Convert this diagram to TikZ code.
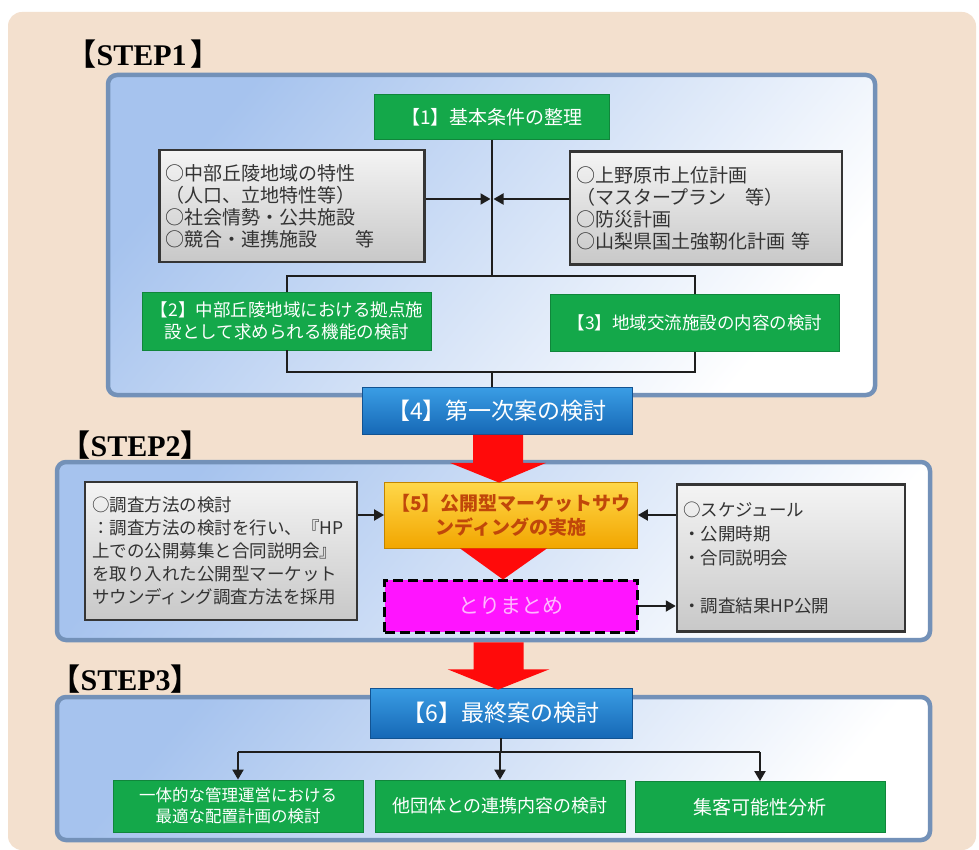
\documentclass[tikz,border=0pt]{standalone}
\usepackage{fontspec}
\setmainfont{Liberation Serif}
\newfontfamily\jp{Noto Sans CJK JP}
\usetikzlibrary{arrows.meta,calc}
\definecolor{beige}{HTML}{F3E0CE}
\definecolor{panelline}{HTML}{7391B8}
\definecolor{panelA}{HTML}{A6C3EE}
\definecolor{grn}{HTML}{14A84A}
\definecolor{blu1}{HTML}{3A9DE4}
\definecolor{blu2}{HTML}{1668B6}
\definecolor{gold1}{HTML}{FFD84A}
\definecolor{gold2}{HTML}{F2A600}
\definecolor{txtor}{HTML}{C0470A}
\definecolor{mag}{HTML}{FF14FF}
\definecolor{magtxt}{HTML}{FFB8FF}
\definecolor{grayA}{HTML}{F4F4F4}
\definecolor{grayB}{HTML}{C8C8C8}
\definecolor{bordr}{HTML}{353535}
\definecolor{redar}{HTML}{FF0A0A}
\definecolor{lin}{HTML}{1E1E1E}
\tikzset{
  panel/.style={rounded corners=9pt, draw=panelline, line width=4.5pt, top color=panelA, bottom color=white, shading angle=50, inner sep=0pt},
  steplabel/.style={anchor=west, inner sep=0pt, font=\fontsize{30}{32}\selectfont\bfseries},
  greenbox/.style={draw=grn!80!black, line width=0.8pt, fill=grn, text=white, inner sep=2pt, align=center},
  bluebox/.style={draw=blu2!80!black, line width=0.8pt, top color=blu1, bottom color=blu2, text=white, align=center, font=\jp\fontsize{23}{26}\selectfont},
  graybox/.style={draw=bordr, line width=2.5pt, top color=grayA, bottom color=grayB, align=left, inner sep=6pt, text=black!80},
  conn/.style={line width=2pt, draw=lin},
  arr/.style={conn, -{Triangle[length=10pt,width=11pt]}},
}
\newcommand{\lbr}{{\jp\bfseries\hspace{-0.45em}【}}
\newcommand{\rbr}{{\jp\bfseries 】\hspace{-0.45em}}}
\begin{document}
\begin{tikzpicture}[x=1pt,y=-1pt]
\useasboundingbox (0,0) rectangle (979,850);
\fill[white] (0,0) rectangle (979,850);
\fill[beige, rounded corners=14pt] (8,12) rectangle (976,850);

% panels
\node[panel, minimum width=767, minimum height=320] (P1) at (491.5,235) {};
\node[panel, minimum width=873, minimum height=178] (P2) at (493.5,551) {};
\node[panel, minimum width=873, minimum height=143] (P3) at (493.5,768.5) {};

% step labels
\node[steplabel] (S1) at (80,54) {\lbr STEP1\hspace{4pt}\rbr};
\node[steplabel] (S2) at (74,445) {\lbr STEP2\rbr};
\node[steplabel] (S3) at (64,679) {\lbr STEP3\rbr};

% STEP 1 nodes
\node[greenbox, minimum width=235, minimum height=45, font=\jp\fontsize{19}{22}\selectfont] (n1) at (492,117) {【1】基本条件の整理};
\node[graybox, text width=253, minimum height=112, font=\jp\fontsize{19}{22}\selectfont] (L1) at (292,206)
  {○中部丘陵地域の特性\\（人口、立地特性等）\\○社会情勢・公共施設\\○競合・連携施設　　等};
\node[graybox, text width=260, minimum height=113, font=\jp\fontsize{19}{22}\selectfont] (R1) at (706,208)
  {○上野原市上位計画\\（マスタープラン　等）\\○防災計画\\○山梨県国土強靭化計画 等};
\node[greenbox, minimum width=289, minimum height=58, font=\jp\fontsize{17.5}{22}\selectfont] (n2) at (287,321)
  {【2】中部丘陵地域における拠点施\\設として求められる機能の検討};
\node[greenbox, minimum width=289, minimum height=57, font=\jp\fontsize{17.5}{22}\selectfont] (n3) at (695,323)
  {【3】地域交流施設の内容の検討};
\node[bluebox, minimum width=270, minimum height=47] (n4) at (497,411) {【4】第一次案の検討};

\coordinate (m1) at (0,199);
\coordinate (h1) at (0,276);
\coordinate (h2) at (0,372);
\draw[conn] (n1.south) -- (n1.south |- h1);
\draw[arr, shorten >=1.5pt] (L1.east |- m1) -- (n1.south |- m1);
\draw[arr, shorten >=1.5pt] (R1.west |- m1) -- (n1.south |- m1);
\draw[conn] (n2.north) -- (n2.north |- h1) -- (n3.north |- h1) -- (n3.north);
\draw[conn] (n2.south) -- (n2.south |- h2) -- (n3.south |- h2) -- (n3.south);
\draw[conn] (n1.south |- h2) -- (n1.south |- n4.north);

% STEP 2 nodes
\node[graybox, text width=258, inner sep=7pt, minimum height=138, font=\jp\fontsize{17.5}{23}\selectfont] (L2) at (221,551)
  {○調査方法の検討\\：調査方法の検討を行い、『HP\\上での公開募集と合同説明会』\\を取り入れた公開型マーケット\\サウンディング調査方法を採用};
\node[draw=gold2!80!black, line width=0.8pt, top color=gold1, bottom color=gold2, text=txtor, align=center,
      minimum width=253, minimum height=66, font=\jp\bfseries\fontsize{19}{24}\selectfont] (n5) at (511,515)
  {【5】公開型マーケットサウ\\ンディングの実施};
\node[draw=black, line width=3pt, dash pattern=on 10pt off 5pt, fill=mag, text=magtxt,
      minimum width=253, minimum height=52, font=\jp\fontsize{21}{24}\selectfont] (n6) at (511,606) {とりまとめ};
\node[graybox, text width=216, minimum height=147, font=\jp\fontsize{17.5}{24}\selectfont] (R2) at (791,558)
  {○スケジュール\\・公開時期\\・合同説明会\\~\\・調査結果HP公開};

\draw[arr] (L2.east |- n5.west) -- (n5.west);
\draw[arr] (R2.west |- n5.east) -- (n5.east);
\draw[arr] (n6.east) -- (R2.west |- n6.east);

% STEP 3 nodes
\node[bluebox, minimum width=262, minimum height=50] (n7) at (501,713) {【6】最終案の検討};
\node[greenbox, minimum width=250, minimum height=52, font=\jp\fontsize{16.5}{21}\selectfont] (bA) at (238,806)
  {一体的な管理運営における\\最適な配置計画の検討};
\node[greenbox, minimum width=250, minimum height=52, font=\jp\fontsize{18}{21}\selectfont] (bB) at (500,806)
  {他団体との連携内容の検討};
\node[greenbox, minimum width=250, minimum height=51, font=\jp\fontsize{19}{21}\selectfont] (bC) at (760,807)
  {集客可能性分析};

\coordinate (h3) at (0,752);
\draw[conn] (n7.south) -- (n7.south |- h3);
\draw[conn] (bA.north |- h3) -- (bC.north |- h3);
\draw[arr] (bA.north |- h3) -- (bA.north);
\draw[arr] (bB.north |- h3) -- (bB.north);
\draw[arr] (bC.north |- h3) -- (bC.north);

% red block arrows
\fill[redar] ($(n4.south)+(-24,0)$) -- ($(n4.south)+(-24,28)$) -- ($(n4.south)+(-47,28)$)
  -- ($(n5.north)+(-12,1)$) -- ($(n4.south)+(49,28)$) -- ($(n4.south)+(26,28)$) -- ($(n4.south)+(26,0)$) -- cycle;
\fill[redar] ($(n5.south)+(-51,0)$) -- ($(n5.south)+(36,0)$) -- ($(n6.north)+(-8,1)$) -- cycle;
\fill[redar] ($(P2.south)+(-20,0)$) -- ($(P2.south)+(-20,27)$) -- ($(P2.south)+(-46,27)$)
  -- ($(n7.north)+(-3,2)$) -- ($(P2.south)+(56,27)$) -- ($(P2.south)+(30,27)$) -- ($(P2.south)+(30,0)$) -- cycle;
\end{tikzpicture}
\end{document}
